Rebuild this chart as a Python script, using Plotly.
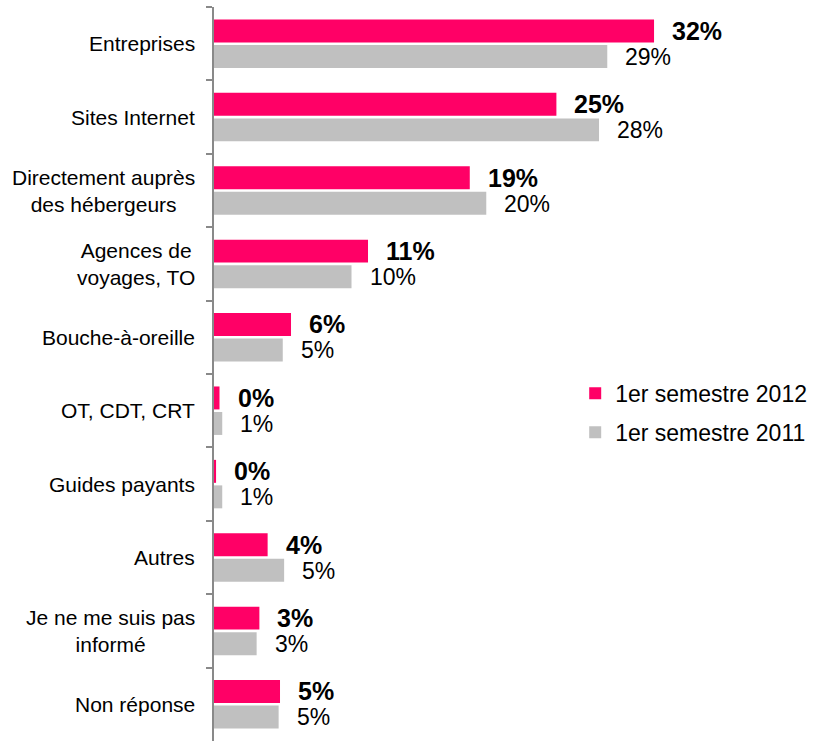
import plotly.graph_objects as go

# Information sources, share of respondents (%)
categories = [
    "Entreprises",
    "Sites Internet",
    "Directement auprès<br>des hébergeurs",
    "Agences de<br>voyages, TO",
    "Bouche-à-oreille",
    "OT, CDT, CRT",
    "Guides payants",
    "Autres",
    "Je ne me suis pas<br>informé",
    "Non réponse",
]
s2012 = [32.0, 24.9, 18.6, 11.2, 5.6, 0.4, 0.15, 3.9, 3.3, 4.8]
s2011 = [28.6, 28.0, 19.8, 10.0, 5.0, 0.6, 0.6, 5.1, 3.1, 4.7]
series_names = ["1er semestre 2012", "1er semestre 2011"]

PINK = "#FF0066"
GREY = "#C0C0C0"
AXIS = "#898989"
FONT = "Liberation Sans, Arial, sans-serif"

fig = go.Figure()
for name, vals, col, grp in [(series_names[0], s2012, PINK, "a"),
                             (series_names[1], s2011, GREY, "b")]:
    fig.add_trace(go.Bar(
        x=vals, y=categories, orientation="h", name=name,
        marker=dict(color=col, line=dict(width=0)),
        legendgroup=grp, hoverinfo="skip",
    ))

annotations = []
# category labels, centred lines, right-aligned against the axis
for c in categories:
    annotations.append(dict(
        x=0, xref="paper", y=c, yref="y", text=c, showarrow=False,
        xanchor="right", yanchor="middle", align="center", xshift=-17,
        font=dict(family=FONT, size=21, color="#000000"),
    ))
# value labels beside each bar
for vals, shift, bold in [(s2012, 13, True), (s2011, -13, False)]:
    for c, v in zip(categories, vals):
        txt = f"{v:.0f}%"
        annotations.append(dict(
            x=v, xref="x", y=c, yref="y",
            text=f"<b>{txt}</b>" if bold else txt, showarrow=False,
            xanchor="left", yanchor="middle", xshift=16, yshift=shift,
            font=dict(family=FONT, size=25 if bold else 23, color="#000000"),
        ))

fig.update_layout(
    width=813, height=741,
    margin=dict(l=214, r=0, t=7, b=0),
    paper_bgcolor="white", plot_bgcolor="white",
    barmode="group", bargap=0.305, bargroupgap=0.1,
    showlegend=True,
    legend=dict(
        x=0.603, y=0.503, xanchor="left", yanchor="top",
        font=dict(family=FONT, size=23, color="#000000"),
        tracegroupgap=6, traceorder="grouped",
        bgcolor="rgba(0,0,0,0)",
    ),
    annotations=annotations,
    font=dict(family=FONT),
)
fig.update_xaxes(range=[0, 43.56], visible=False, fixedrange=True)
fig.update_yaxes(
    autorange="reversed", showticklabels=False,
    showline=True, linecolor=AXIS, linewidth=2,
    ticks="outside", ticklen=6, tickwidth=2, tickcolor=AXIS,
    tickson="boundaries", showgrid=False, zeroline=False,
)

fig.write_html("out.html")
